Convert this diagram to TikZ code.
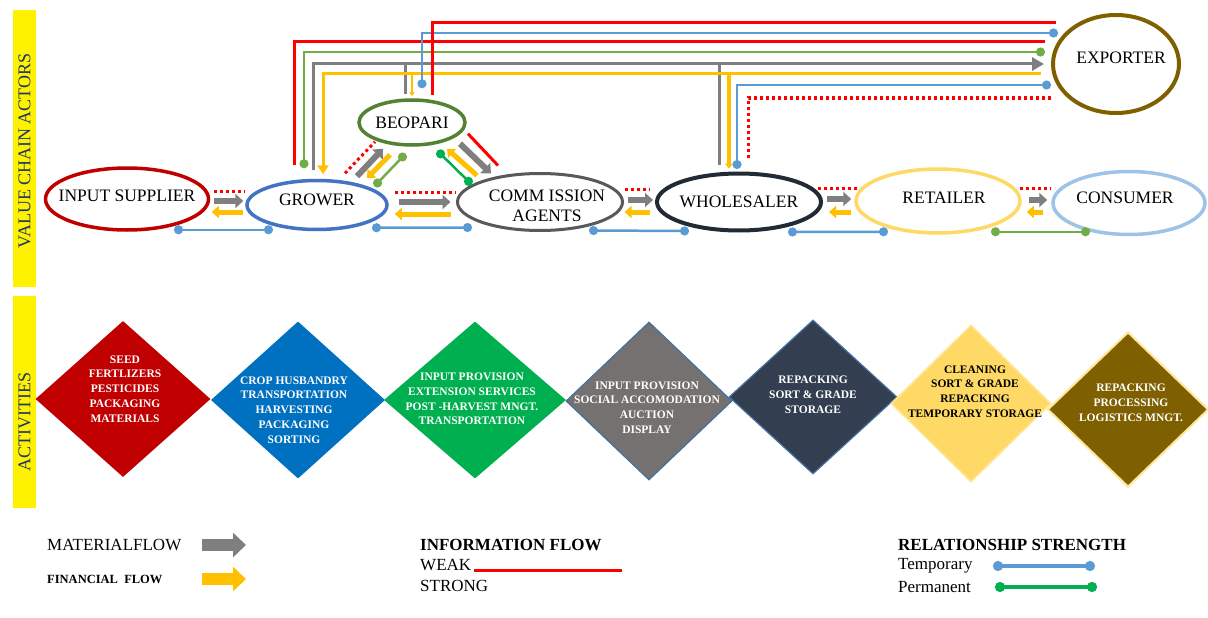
\documentclass[tikz,border=0pt]{standalone}
\usepackage{fontspec}
\setmainfont{Liberation Serif}
\usetikzlibrary{arrows.meta,calc,shapes.geometric}
\definecolor{isred}{HTML}{C00000}
\definecolor{grblue}{HTML}{4472C4}
\definecolor{bpgreen}{HTML}{548235}
\definecolor{cagray}{HTML}{595959}
\definecolor{whnavy}{HTML}{222A35}
\definecolor{rtyellow}{HTML}{FFD966}
\definecolor{cnblue}{HTML}{9DC3E6}
\definecolor{exbrown}{HTML}{7F6000}
\definecolor{matgray}{HTML}{7F7F7F}
\definecolor{finyellow}{HTML}{FFC000}
\definecolor{infored}{HTML}{FF0000}
\definecolor{tmpblue}{HTML}{5B9BD5}
\definecolor{lgreen}{HTML}{70AD47}
\definecolor{pmgreen}{HTML}{00B050}
\definecolor{barnavy}{HTML}{1F3864}
\definecolor{actblue}{HTML}{0070C0}
\definecolor{actgray}{HTML}{767171}
\definecolor{actslate}{HTML}{333F50}
\definecolor{edgeblue}{HTML}{41719C}
\definecolor{edgecream}{HTML}{FFE699}
\tikzset{
  actor/.style    = {ellipse, draw, line width=3.5pt, inner sep=0pt},
  actlab/.style   = {font=\fontsize{17.5}{20}\selectfont, align=center},
  activity/.style = {diamond, inner sep=0pt},
  acttext/.style  = {font=\fontsize{11.5}{14.8}\selectfont\bfseries, align=center, text=white},
  sidebar/.style  = {fill=yellow, inner sep=0pt, minimum width=23pt},
  sidetext/.style = {rotate=90, text=barnavy, font=\fontsize{18}{20}\selectfont},
  mflow/.style    = {draw=matgray, line width=6pt, -{Triangle[length=8pt,width=14pt]}},
  fflow/.style    = {draw=finyellow, line width=5pt, -{Triangle[length=7pt,width=12pt]}},
  mbig/.style     = {draw=matgray, line width=12pt, -{Triangle[length=13pt,width=24pt]}},
  fbig/.style     = {draw=finyellow, line width=12pt, -{Triangle[length=13pt,width=24pt]}},
  mline/.style    = {draw=matgray, line width=3pt},
  fline/.style    = {draw=finyellow, line width=3pt},
  weak/.style     = {draw=infored, line width=3pt},
  weakdot/.style  = {draw=infored, line width=3pt, dash pattern=on 3pt off 3pt},
  temp/.style     = {draw=tmpblue, line width=2.5pt, {Circle[length=9pt]}-{Circle[length=9pt]}},
  perm/.style     = {draw=lgreen, line width=2.5pt, {Circle[length=9pt]}-{Circle[length=9pt]}},
  legtext/.style  = {anchor=west, inner sep=0pt, font=\fontsize{17}{20}\selectfont},
  leghead/.style  = {legtext, font=\fontsize{17}{20}\selectfont\bfseries},
}
\begin{document}
\begin{tikzpicture}[x=1pt,y=-1pt]
\useasboundingbox (0,0) rectangle (1208,618);
\fill[white] (0,0) rectangle (1208,618);
% ---- side bars ----
\node[sidebar, minimum height=277pt] (bar1) at (24.5,148.5) {};
\node[sidetext] (vca) at (24.5,151) {VALUE CHAIN ACTORS};
\node[sidebar, minimum height=212pt] (bar2) at (24.5,402) {};
\node[sidetext] (act) at ($(bar2)+(0,20)$) {ACTIVITIES};
% ---- value chain actors ----
\node[actor, draw=isred, minimum width=163pt, minimum height=62pt,
      label={[actlab,yshift=3pt]center:INPUT SUPPLIER}] (IS) at (127,199) {};
\node[actor, draw=grblue, minimum width=140pt, minimum height=49pt,
      label={[actlab,yshift=5pt]center:GROWER}] (G) at (317,205) {};
\node[actor, draw=bpgreen, minimum width=106pt, minimum height=45pt,
      label={[actlab]center:BEOPARI}] (B) at (412,122.5) {};
\node[actor, draw=cagray, line width=3pt, minimum width=165pt, minimum height=57pt,
      label={[actlab,xshift=7pt,yshift=-4pt]center:COMM ISSION\\AGENTS}] (CA) at (540,202) {};
\node[actor, draw=whnavy, line width=4pt, minimum width=164pt, minimum height=57pt,
      label={[actlab]center:WHOLESALER}] (W) at (739,202) {};
\node[actor, draw=rtyellow, minimum width=164pt, minimum height=64pt,
      label={[actlab,xshift=6pt,yshift=3pt]center:RETAILER}] (R) at (938,201) {};
\node[actor, draw=cnblue, minimum width=152pt, minimum height=63pt,
      label={[actlab,xshift=-4pt,yshift=5pt]center:CONSUMER}] (C) at (1129,203) {};
\node[actor, draw=exbrown, line width=4pt, minimum width=126pt, minimum height=98pt,
      label={[actlab,xshift=5pt,yshift=6pt]center:EXPORTER}] (E) at (1116,64) {};
% ---- links along the chain ----
\draw[weakdot] ($(IS.east)+(3.5,-8)$) -- ($(G.west)+(0,-14)$);
\draw[mflow] ($(IS.east)+(3.5,2)$) -- ($(G.west)+(-2,-4)$);
\draw[fflow] ($(G.west)+(-2,7)$) -- ($(IS.east)+(1.5,13)$);
\draw[temp] ($(IS.south)+(47,-2)$) -- ($(G.south)+(-44,-1.5)$);
\draw[weakdot] ($(G.east)+(6,-13)$) -- ($(CA.west)+(0,-10)$);
\draw[mflow] ($(G.east)+(10,-3)$) -- ($(CA.west)+(-5.5,0)$);
\draw[fflow] ($(CA.west)+(-5.5,12)$) -- ($(G.east)+(6,9)$);
\draw[temp] ($(G.south)+(55,-3.5)$) -- ($(CA.south)+(-68,-4.5)$);
\draw[weakdot] ($(CA.east)+(0.5,-13)$) -- ($(W.west)+(-5,-13)$);
\draw[mflow] ($(CA.east)+(3.5,-2)$) -- ($(W.west)+(-2,-2)$);
\draw[fflow] ($(W.west)+(-5,10)$) -- ($(CA.east)+(0.5,10)$);
\draw[temp] ($(CA.south)+(49,-1.5)$) -- ($(W.south)+(-50,-1.5)$);
\draw[weakdot] ($(W.east)+(-5,-14)$) -- ($(R.west)+(3,-13)$);
\draw[mflow] ($(W.east)+(4,-3)$) -- ($(R.west)+(-3,-2)$);
\draw[fflow] ($(R.west)+(-3,11)$) -- ($(W.east)+(6,10)$);
\draw[temp] ($(W.south)+(49,-0.5)$) -- ($(R.south)+(-50,-3)$);
\draw[weakdot] ($(R.east)+(-2,-13)$) -- ($(C.west)+(0,-15)$);
\draw[mflow] ($(R.east)+(7,-1)$) -- ($(C.west)+(-4,-3)$);
\draw[fflow] ($(C.west)+(-8,9)$) -- ($(R.east)+(5,11)$);
\draw[perm] ($(R.south)+(53,-3)$) -- ($(C.south)+(-39,-4.5)$);
% ---- beopari triangle ----
\draw[weakdot] ($(G.north)+(28,-5.5)$) -- ($(B.south)+(-37,-5)$);
\draw[mflow] ($(G.north)+(40,-2.5)$) -- ($(B.south)+(-29,2)$);
\draw[fflow] ($(B.south)+(-22,8)$) -- ($(G.north)+(50,-0.5)$);
\draw[perm] ($(B.south)+(-6.4,7)$) -- ($(G.north)+(57.4,7.5)$);
\draw[perm, draw=pmgreen] ($(B.south)+(25.3,4)$) -- ($(CA.north)+(-68.3,12.5)$);
\draw[fflow] ($(CA.north)+(-63,3.5)$) -- ($(B.south)+(35,2)$);
\draw[mflow] ($(B.south)+(48,-3)$) -- ($(CA.north)+(-49,1.5)$);
\draw[weak] ($(B.south)+(56,-13)$) -- ($(CA.north)+(-42,-6.5)$);
% ---- links to exporter ----
\draw[weak] ($(G.north)+(-23,-13.5)$) |- ($(E.west)+(-6,-22)$);
\draw[perm] ($(G.north)+(-13,-10.5)$) |- ($(E.west)+(-6,-12)$);
\draw[mline, -{Triangle[length=12pt,width=13pt]}] ($(G.north)+(-4,-8.5)$) |- ($(E.west)+(-7,0)$);
\draw[mline] ($(B.north)+(-7,-4)$) -- ++(0,-32);
\draw[mline] ($(W.north)+(-20,-6.5)$) -- ++(0,-103);
\draw[fline, -{Triangle[length=9pt,width=11pt]}] ($(E.west)+(-10,10)$) -| ($(G.north)+(6,-4.5)$);
\draw[fline, line width=1.5pt, -{Triangle[length=4pt,width=5pt]}] ($(B.north)+(0,-26)$) -- ($(B.north)+(0,-2)$);
\draw[fline, line width=4pt, -{Triangle[length=5pt,width=8pt]}] ($(W.north)+(-10,-99.5)$) -- ($(W.north)+(-10,-3)$);
\draw[temp] ($(W.north)+(-2,-2.5)$) |- ($(E.west)+(0,21)$);
\draw[weakdot] ($(W.north)+(9,-13.5)$) |- ($(E.west)+(2,34)$);
\draw[temp] ($(B.north)+(10,-10)$) |- ($(E.west)+(7,-31)$);
\draw[weak] ($(B.north)+(20,-3)$) |- ($(E.west)+(5,-41)$);
% ---- activities ----
\node[activity, fill=isred, minimum width=175pt, minimum height=156pt] (A1) at (123,399) {};
\node[activity, fill=actblue, minimum width=174pt, minimum height=157pt] (A2) at (298,400) {};
\node[activity, fill=pmgreen, minimum width=182pt, minimum height=157pt] (A3) at (475,400) {};
\node[activity, fill=actgray, draw=edgeblue, line width=1.2pt, minimum width=166pt, minimum height=158pt] (A4) at (649,401) {};
\node[activity, fill=actslate, draw=edgeblue, line width=1.2pt, minimum width=168pt, minimum height=154pt] (A5) at (813,397) {};
\node[activity, fill=rtyellow, draw=edgecream, line width=1.5pt, minimum width=160pt, minimum height=157pt] (A6) at (971,403.5) {};
\node[activity, fill=exbrown, draw=edgecream, line width=2pt, minimum width=161pt, minimum height=155pt] (A7) at (1128,409.5) {};
\node[acttext] (A1t) at ($(A1)+(2,-10)$) {SEED\\FERTLIZERS\\PESTICIDES\\PACKAGING\\MATERIALS};
\node[acttext] (A2t) at ($(A2)+(-4,10)$) {CROP HUSBANDRY\\TRANSPORTATION\\HARVESTING\\PACKAGING\\SORTING};
\node[acttext] (A3t) at ($(A3)+(-3,-1)$) {INPUT PROVISION\\EXTENSION SERVICES\\POST -HARVEST MNGT.\\TRANSPORTATION};
\node[acttext] (A4t) at ($(A4)+(-2,6.5)$) {INPUT PROVISION\\SOCIAL ACCOMODATION\\AUCTION\\DISPLAY};
\node[acttext] (A5t) at ($(A5)+(0,-2.5)$) {REPACKING\\SORT \& GRADE\\STORAGE};
\node[acttext, text=black] (A6t) at ($(A6)+(4,-12)$) {CLEANING\\SORT \& GRADE\\REPACKING\\TEMPORARY STORAGE};
\node[acttext] (A7t) at ($(A7)+(3,-6.5)$) {REPACKING\\PROCESSING\\LOGISTICS MNGT.};
% ---- legend ----
\node[legtext] (lmat) at (47,545) {MATERIALFLOW};
\draw[mbig] ($(lmat.west)+(155,0)$) -- ++(44,0);
\node[legtext, font=\fontsize{12.5}{15}\selectfont\bfseries] (lfin) at (47,579) {FINANCIAL\ \ FLOW};
\draw[fbig] ($(lfin.west)+(155,0)$) -- ++(44,0);
\node[leghead] (linfo) at (420,545) {INFORMATION FLOW};
\node[legtext] (lweak) at (420,565) {WEAK};
\draw[weak] ($(lweak.base east)+(3,0)$) -- ++(148,0);
\node[legtext] (lstrong) at (420,586) {STRONG};
\node[leghead] (lrel) at (898,545) {RELATIONSHIP STRENGTH};
\node[legtext] (ltemp) at (898,566) {Temporary};
\draw[temp, line width=3.5pt, {Circle[length=10pt]}-{Circle[length=10pt]}] ($(ltemp.west)+(95,0)$) -- ++(102,0);
\node[legtext] (lperm) at (898,587) {Permanent};
\draw[perm, draw=pmgreen, line width=3.5pt, {Circle[length=10pt]}-{Circle[length=10pt]}] ($(lperm.west)+(97,0)$) -- ++(102,0);
\end{tikzpicture}
\end{document}
